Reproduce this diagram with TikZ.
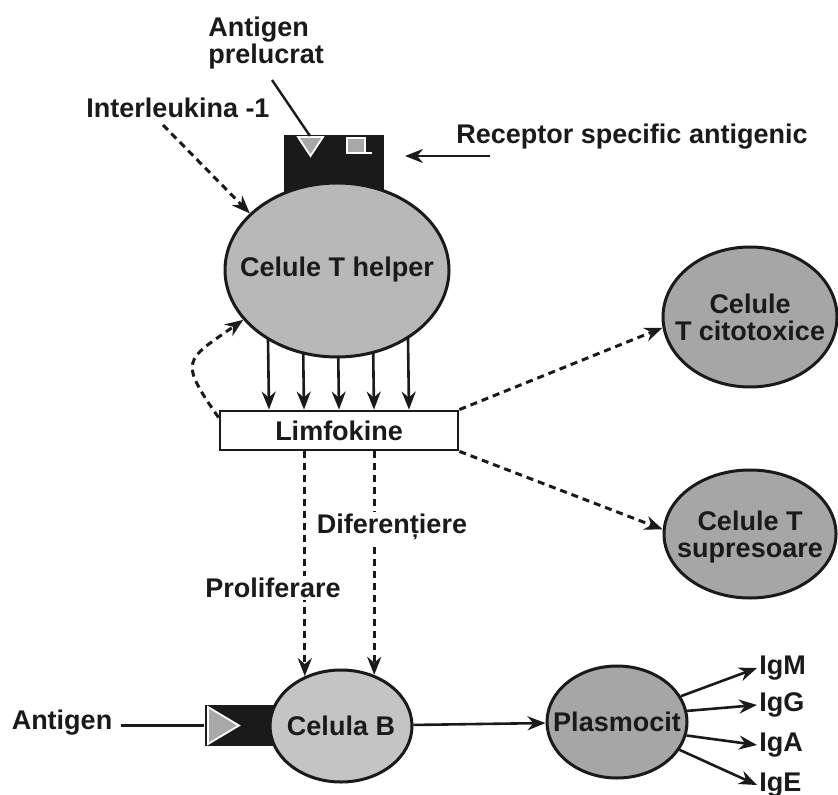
\documentclass[tikz,border=0pt]{standalone}
\usepackage{fontspec}
\setmainfont{Liberation Sans}
\usepackage{tikz}
\usetikzlibrary{positioning,shapes.geometric,arrows.meta,calc,backgrounds}
\definecolor{ink}      {HTML}{1A1A1A}
\definecolor{cellfill} {HTML}{B8B8B8}
\definecolor{darkcell} {HTML}{A6A6A6}
\definecolor{lightcell}{HTML}{C4C4C4}
\definecolor{tipgray}  {HTML}{A8A8A8}
\tikzset{
  >={Stealth[length=9pt,width=7pt]},
  every node/.style={font=\fontsize{13.5}{13.5}\selectfont\bfseries, text=ink},
  % --- nodes
  cell/.style   = {ellipse, draw=ink, line width=1.5pt, fill=cellfill, inner sep=0pt},
  ctext/.style  = {align=center, inner sep=0pt},
  lbl/.style    = {inner sep=1pt, align=left},
  rbox/.style   = {rectangle, draw=ink, line width=1.4pt, fill=white, inner sep=0pt},
  recbox/.style = {rectangle, fill=ink, inner sep=0pt},
  % --- edges
  e/.style      = {->, line width=1.3pt, draw=ink},
  ed/.style     = {e, line width=1.5pt, dash pattern=on 3.5pt off 2.5pt},
  eline/.style  = {line width=1.2pt, draw=ink},
}

\begin{document}
\begin{tikzpicture}[x=0.5pt,y=-0.5pt,
  tip/.style={fill=tipgray, draw=white, line width=0.9pt},
]
  \useasboundingbox (0,0) rectangle (838,795);

  % cells
  \node[cell, minimum width=112pt, minimum height=87pt] (th) at (337,270) {};
  \node[cell, minimum width=87pt, minimum height=70pt, fill=darkcell] (tc) at (750,317) {};
  \node[cell, minimum width=86pt, minimum height=64pt, fill=darkcell] (ts) at (750,534) {};
  \node[cell, minimum width=71pt, minimum height=56pt, fill=lightcell] (cb) at (341,726) {};
  \node[cell, minimum width=70pt, minimum height=56pt, fill=darkcell] (pl) at (617,722) {};
  \node[ctext] (thtxt) at (th) {Celule T helper};
  \node[ctext] (tctxt) at (750,317) {Celule\\T citotoxice};
  \node[ctext] (tstxt) at (750,537) {Celule T\\supresoare};
  \node[ctext] (cbtxt) at (cb) {Celula B};
  \node[ctext] (pltxt) at (pl) {Plasmocit};

  \node[rbox, minimum width=119pt, minimum height=19.5pt] (lk) at (339,430.5) {Limfokine};

  % receptors, under the cells
  \begin{scope}[on background layer]
    \node[recbox, minimum width=50pt, minimum height=30pt] (trec) at (334,165) {};
    \filldraw[tip] (298,137) -- (323,137) -- (310.5,156) -- cycle;
    \filldraw[tip] (347,138) rectangle (365,153);
    \draw[white, line width=0.9pt] (365,153) -- (372,153);
    \node[recbox, minimum width=42.5pt, minimum height=20.5pt] (brec) at (247,725.5) {};
    \filldraw[tip] (208,707) -- (239,725.5) -- (208,744) -- cycle;
    \foreach \dx in {-70,-35,0,35,70}
      \draw[e] ($(th.center)+(\dx,0)$) -- ($(lk.north)+(\dx,0)$);
  \end{scope}

  % labels
  \node[lbl, anchor=west] (apre) at (206,43) {Antigen\\prelucrat};
  \node[lbl] (il) at (178,108) {Interleukina -1};
  \node[lbl] (rsa) at (632,137) {Receptor specific antigenic};
  \node[lbl] (ag) at (62,723) {Antigen};

  \coordinate (ap0) at (272,80);
  \coordinate (aptip) at (310,136);
  \coordinate (il0) at (163,125);
  \coordinate (rs0) at (490,156);
  \coordinate (rs1) at (405,156);

  \draw[eline] (ap0) -- (aptip);
  \draw[ed] (il0) -- (th.147);
  \draw[e] (rs0) -- (rs1);
  \draw[ed] ([yshift=-4pt]lk.north west) to[out=125,in=215,looseness=1.8] (th.208);
  \draw[ed] (lk.north east) -- (tc.187);
  \draw[ed] (lk.south east) -- (ts.177);

  \draw[ed] (cb.126 |- lk.south) -- (cb.126);
  \draw[ed] (cb.57 |- lk.south) -- (cb.57);
  \node[lbl, fill=white] (dif) at (392,527) {Diferențiere};
  \node[lbl, fill=white] (prol) at (273,588) {Proliferare};

  \draw[eline] ([xshift=3pt]ag.east |- brec.west) -- (brec.west);
  \draw[e] (cb) -- (pl);

  \foreach \n/\t/\y/\a in {igm/IgM/668/22, igg/IgG/705/9, iga/IgA/745/349, ige/IgE/785/336} {
    \node[lbl, anchor=west] (\n) at (757,\y) {\t};
    \draw[e] (pl.\a) -- (\n.west);
  }
\end{tikzpicture}
\end{document}
